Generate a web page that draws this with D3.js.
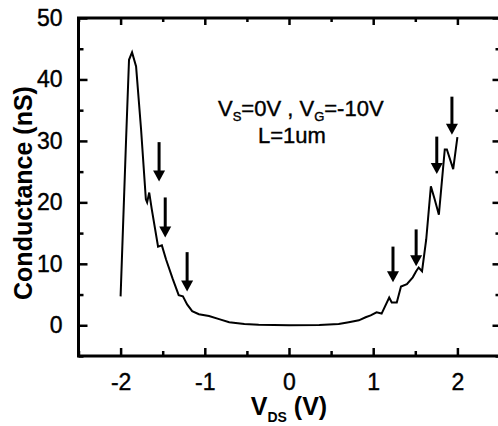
<!DOCTYPE html>
<html>
<head>
<meta charset="utf-8">
<script src="https://cdn.jsdelivr.net/npm/d3@7"></script>
<style>
  body { margin: 0; background: #fff; }
  text { font-family: "Liberation Sans", Arial, sans-serif; fill: #000; }
</style>
</head>
<body>
<svg id="chart" width="498" height="426"></svg>
<script>
// conductance curve
const vds = [-2.00, -1.935, -1.90, -1.864, -1.816, -1.757, -1.70, -1.685, -1.66, -1.63,
  -1.555, -1.51, -1.46, -1.38, -1.31, -1.26, -1.21, -1.15, -1.07, -0.95, -0.83, -0.71, -0.53,
  -0.36, 0, 0.36, 0.59, 0.71, 0.83, 0.91, 0.97, 1.04, 1.10, 1.19, 1.22, 1.28, 1.33, 1.40, 1.47,
  1.51, 1.54, 1.58, 1.63, 1.685, 1.73, 1.78, 1.85, 1.875, 1.95, 2.00];
const conductance = [4.7, 30.2, 43.2, 44.4, 42.1, 31.9, 20.5, 20.0, 21.6, 18.9,
  12.8, 13.0, 10.7, 7.5, 4.9, 4.7, 3.4, 2.3, 1.8, 1.5, 1.0, 0.5, 0.2,
  0.1, 0, 0.05, 0.2, 0.5, 0.8, 1.3, 1.6, 2.1, 1.9, 4.5, 3.7, 3.7, 6.3, 6.7, 7.8,
  8.8, 9.4, 8.8, 14.0, 22.6, 20.5, 18.0, 28.6, 28.6, 25.4, 30.6];

// arrows: x position, tail and tip (nS)
const arrowX = [-1.543, -1.47, -1.21, 1.235, 1.51, 1.755, 1.935];
const arrowTop = [29.8, 20.8, 11.9, 12.8, 15.6, 30.7, 37.2];
const arrowTip = [23.4, 14.3, 5.5, 7.0, 9.6, 24.6, 31.0];

const xTicks = [-2, -1, 0, 1, 2];
const xMinor = [-2.5, -1.5, -0.5, 0.5, 1.5, 2.5];
const yTicks = [0, 10, 20, 30, 40, 50];
const yMinor = [-5, 5, 15, 25, 35, 45];

const svg = d3.select('#chart');

const x = d3.scaleLinear().domain([-2.5, 2.5]).range([78.5, 499.5]);
const y = d3.scaleLinear().domain([-5, 50]).range([356, 18]);

// axes with inward ticks
function styleAxis(g) {
  g.select('.domain').remove();
  g.selectAll('.tick line').attr('stroke', '#000').attr('stroke-width', 2.5);
  g.selectAll('.tick text').attr('font-size', 23).attr('fill', '#000')
    .attr('stroke', '#000').attr('stroke-width', 0.4)
    .attr('font-family', '"Liberation Sans", Arial, sans-serif');
}

const plain = d => String(d);

svg.append('g').attr('transform', `translate(0,${y(-5)})`)
  .call(d3.axisBottom(x).tickValues(xTicks).tickSizeInner(-8).tickSizeOuter(0).tickPadding(18)
    .tickFormat(plain))
  .call(styleAxis);
svg.append('g').attr('transform', `translate(0,${y(-5)})`)
  .call(d3.axisBottom(x).tickValues(xMinor).tickSize(-5).tickFormat(''))
  .call(styleAxis);

svg.append('g').attr('transform', `translate(${x(-2.5)},0)`)
  .call(d3.axisLeft(y).tickValues(yTicks).tickSizeInner(-9).tickSizeOuter(0).tickPadding(16)
    .tickFormat(plain))
  .call(styleAxis);
svg.append('g').attr('transform', `translate(${x(-2.5)},0)`)
  .call(d3.axisLeft(y).tickValues(yMinor).tickSize(-5).tickFormat(''))
  .call(styleAxis);

svg.append('g').attr('transform', `translate(0,${y(50)})`)
  .call(d3.axisTop(x).tickValues(xTicks).tickSize(-7).tickFormat(''))
  .call(styleAxis);
svg.append('g').attr('transform', `translate(0,${y(50)})`)
  .call(d3.axisTop(x).tickValues(xMinor).tickSize(-4).tickFormat(''))
  .call(styleAxis);

svg.append('g').attr('transform', `translate(${x(2.5)},0)`)
  .call(d3.axisRight(y).tickValues(yTicks).tickSize(-7).tickFormat(''))
  .call(styleAxis);
svg.append('g').attr('transform', `translate(${x(2.5)},0)`)
  .call(d3.axisRight(y).tickValues(yMinor).tickSize(-4).tickFormat(''))
  .call(styleAxis);

// frame
svg.append('rect')
  .attr('x', x(-2.5)).attr('y', y(50))
  .attr('width', x(2.5) - x(-2.5)).attr('height', y(-5) - y(50))
  .attr('fill', 'none').attr('stroke', '#000').attr('stroke-width', 3);

// curve
const line = d3.line().x((d, i) => x(vds[i])).y(d => y(d));
svg.append('path')
  .datum(conductance)
  .attr('d', line)
  .attr('fill', 'none').attr('stroke', '#000').attr('stroke-width', 2)
  .attr('stroke-linejoin', 'miter');

// arrows
const head = 11;
const arrows = svg.append('g');
arrowX.forEach((ax, i) => {
  const px = x(ax), ty = y(arrowTop[i]), hy = y(arrowTip[i]);
  arrows.append('line')
    .attr('x1', px).attr('x2', px).attr('y1', ty).attr('y2', hy - head + 1)
    .attr('stroke', '#000').attr('stroke-width', 3);
  arrows.append('path')
    .attr('d', `M${px - 6},${hy - head}L${px + 6},${hy - head}L${px},${hy}Z`)
    .attr('fill', '#000');
});

// annotation
const note = svg.append('text').attr('x', 218).attr('y', 116).attr('font-size', 22)
  .attr('stroke', '#000').attr('stroke-width', 0.4);
note.append('tspan').text('V');
note.append('tspan').attr('dy', 5).attr('font-size', 13).text('S');
note.append('tspan').attr('dy', -5).text('=0V , V');
note.append('tspan').attr('dy', 5).attr('font-size', 13).text('G');
note.append('tspan').attr('dy', -5).text('=-10V');

svg.append('text').attr('x', 258).attr('y', 143).attr('font-size', 22)
  .attr('stroke', '#000').attr('stroke-width', 0.4).text('L=1um');

// axis titles
const xt = svg.append('text').attr('x', 289).attr('y', 415)
  .attr('text-anchor', 'middle').attr('font-size', 25).attr('font-weight', 'bold');
xt.append('tspan').text('V');
xt.append('tspan').attr('dy', 7).attr('font-size', 14).text('DS');
xt.append('tspan').attr('dy', -7).text(' (V)');

svg.append('text')
  .attr('transform', 'translate(32,193) rotate(-90)')
  .attr('text-anchor', 'middle').attr('font-size', 25).attr('font-weight', 'bold')
  .text('Conductance (nS)');
</script>
</body>
</html>
